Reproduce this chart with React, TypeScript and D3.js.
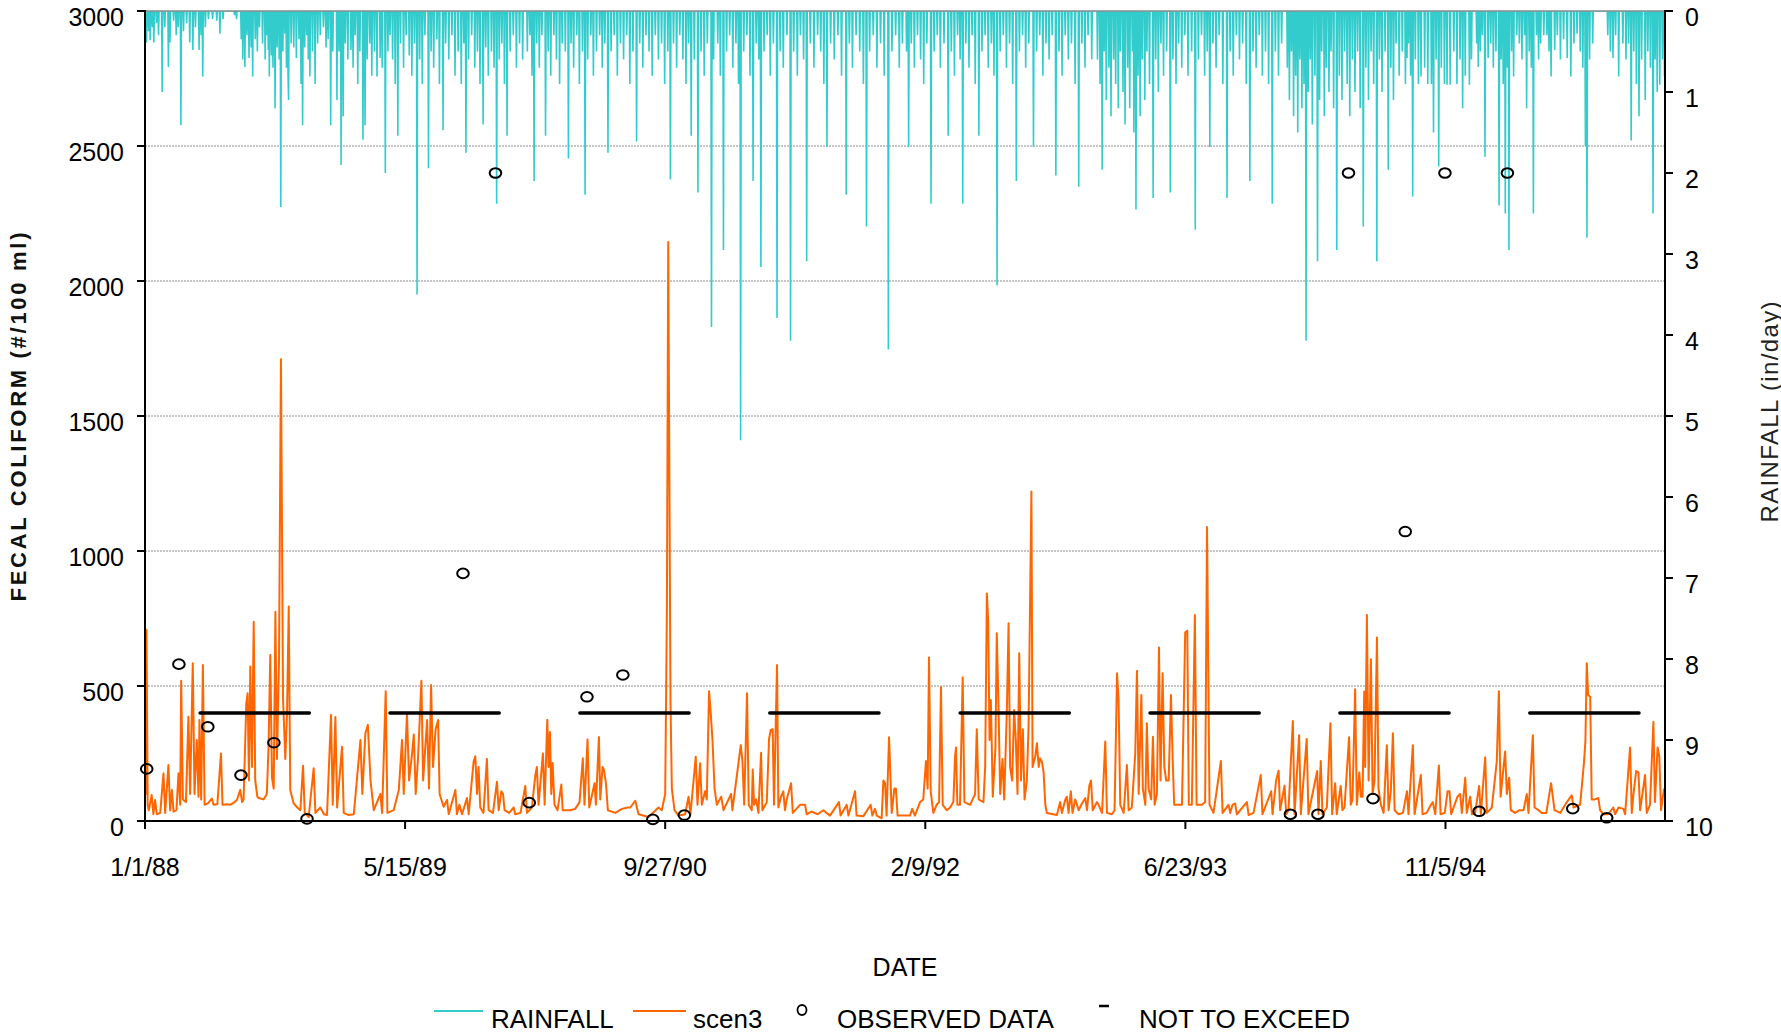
import React from 'react';
import * as d3 from 'd3';

// ---------- DATA ----------
const xTickDays = [0, 500, 1000, 1500, 2000, 2500];
const xTickLabels = ['1/1/88', '5/15/89', '9/27/90', '2/9/92', '6/23/93', '11/5/94'];
const leftTicks = [0, 500, 1000, 1500, 2000, 2500, 3000];
const rightTicks = [0, 1, 2, 3, 4, 5, 6, 7, 8, 9, 10];
const gridValues = [500, 1000, 1500, 2000, 2500];

// rainfall (day of year, inches/day)
const rain1988: [number, number][] = [[3,0.39],[7,0.25],[10,0.36],[14,0.2],[17,0.39],[22,0.15],[26,0.3],[33,1.0],[38,0.2],[45,0.69],[48,0.39],[55,0.12],[60,0.3],[64,0.2],[69,1.41],[74,0.25],[80,0.15],[86,0.39],[92,0.48],[97,0.2],[104,0.48],[108,0.3],[111,0.81],[116,0.2],[122,0.1],[130,0.1],[138,0.12],[144,0.28],[150,0.1],[172,0.05],[176,0.1],[185,0.35],[188,0.6],[192,0.69],[196,0.3],[200,0.58],[204,0.45],[207,0.81],[212,0.35],[216,0.5],[220,0.2],[226,0.4],[231,0.6],[234,0.3],[237,0.48],[239,0.81],[243,0.55],[246,0.7],[250,1.2],[254,0.45],[258,0.6],[261,2.42],[265,0.5],[269,0.28],[272,0.7],[275,0.81],[276,1.1],[281,0.4],[286,0.45],[291,0.58],[296,0.35],[300,0.9],[303,1.41],[307,0.45],[311,0.3],[314,0.6],[317,0.81],[322,0.5],[327,0.9],[332,0.4],[337,0.3],[343,0.2],[348,0.45],[352,0.35],[357,1.41],[361,0.5]];
const rain1989: [number, number][] = [[3,1.1],[7,0.5],[11,1.9],[15,1.3],[19,0.4],[24,0.6],[30,0.48],[34,0.7],[38,0.3],[43,0.9],[47,0.5],[53,1.59],[57,1.41],[61,0.6],[66,0.4],[70,0.8],[75,0.5],[80,0.81],[86,0.58],[90,0.7],[96,2.0],[101,0.5],[105,0.3],[110,0.6],[115,0.9],[120,1.54],[125,0.4],[131,0.7],[136,0.3],[142,0.55],[147,0.8],[152,0.4],[157,3.5],[162,0.6],[167,0.9],[172,0.3],[179,1.94],[184,0.5],[189,0.7],[195,0.35],[200,0.9],[207,1.47],[212,0.4],[218,0.6],[224,0.3],[230,0.8],[236,0.5],[242,0.9],[247,0.4],[251,1.75],[256,0.6],[262,0.3],[268,0.7],[273,0.5],[278,0.9],[284,1.4],[289,0.45],[294,0.8],[300,0.5],[305,0.7],[310,2.38],[315,0.6],[320,0.4],[325,0.9],[330,1.54],[336,0.5],[342,0.3],[348,0.7],[354,0.4],[360,0.6]];
const rain1990: [number, number][] = [[4,0.5],[9,0.3],[13,0.8],[17,2.1],[22,0.4],[27,0.7],[32,0.3],[39,1.54],[44,0.5],[49,0.8],[55,0.3],[60,0.6],[66,0.9],[71,0.4],[77,0.5],[83,1.82],[88,0.4],[93,0.7],[99,0.3],[104,0.9],[110,0.5],[115,2.27],[120,0.6],[126,0.3],[131,0.8],[137,0.5],[143,0.3],[148,0.7],[153,0.4],[159,1.75],[165,0.5],[171,0.3],[177,0.8],[183,0.4],[189,0.6],[195,0.3],[201,0.9],[207,0.5],[214,1.61],[220,0.4],[226,0.7],[232,0.3],[238,0.5],[244,0.8],[250,0.3],[256,0.6],[262,0.4],[268,0.9],[274,0.5],[279,2.08],[285,0.4],[291,0.7],[297,0.3],[303,0.6],[309,0.9],[314,0.4],[319,1.54],[325,0.6],[332,2.24],[338,0.5],[344,0.8],[350,0.4],[358,3.9],[362,0.6]];
const rain1991: [number, number][] = [[5,0.4],[10,0.8],[16,2.95],[22,0.5],[28,0.3],[34,0.7],[40,0.4],[45,0.9],[49,5.3],[55,0.5],[61,0.3],[67,0.8],[73,2.1],[79,0.4],[84,0.6],[88,3.16],[94,0.5],[100,0.3],[106,0.8],[112,0.4],[119,3.79],[125,0.5],[131,0.7],[138,0.3],[145,4.07],[151,0.5],[158,0.8],[164,0.3],[170,0.6],[176,3.09],[183,0.4],[190,0.7],[197,0.3],[203,0.5],[209,0.9],[215,1.68],[222,0.4],[229,0.6],[236,0.3],[243,0.8],[252,2.27],[258,0.4],[264,0.7],[271,0.3],[278,0.5],[285,0.9],[291,2.66],[297,0.5],[304,0.3],[311,0.7],[318,0.4],[325,0.8],[333,4.18],[340,0.5],[347,0.3],[354,0.7],[360,0.4]];
const rain1992: [number, number][] = [[3,0.5],[7,1.68],[12,0.4],[18,0.7],[24,0.3],[30,0.6],[36,0.9],[42,0.4],[50,2.38],[56,0.5],[62,0.3],[68,0.7],[75,0.4],[83,1.54],[89,0.5],[95,0.8],[101,0.3],[106,0.6],[111,2.38],[117,0.4],[123,0.7],[129,0.3],[135,0.9],[142,1.54],[148,0.5],[154,0.3],[160,0.7],[166,0.4],[171,0.8],[177,3.39],[183,0.5],[189,0.3],[195,0.7],[201,0.4],[207,0.9],[214,2.1],[220,0.5],[226,0.3],[232,0.7],[238,0.4],[247,1.68],[253,0.5],[259,0.3],[265,0.8],[271,0.4],[277,0.6],[283,0.3],[290,2.03],[296,0.5],[302,0.8],[308,0.3],[314,0.6],[320,0.4],[327,0.9],[334,2.17],[340,0.4],[346,0.7],[352,0.3],[359,0.6]];
const rain1993: [number, number][] = [[4,0.6],[9,0.9],[13,1.96],[17,0.5],[21,1.1],[26,0.7],[30,1.3],[35,0.6],[39,0.9],[44,1.2],[48,0.5],[53,1.0],[57,1.4],[62,0.7],[66,1.2],[71,0.5],[74,1.5],[78,2.45],[82,0.8],[86,1.3],[90,0.6],[95,1.1],[99,0.5],[104,0.9],[111,2.31],[116,0.6],[121,1.0],[126,0.4],[131,0.8],[137,0.5],[144,2.24],[149,0.6],[155,0.9],[160,0.4],[166,0.7],[172,0.3],[178,0.8],[185,0.5],[192,2.7],[198,0.6],[204,0.3],[210,0.8],[215,0.5],[220,1.68],[226,0.4],[232,0.7],[238,0.3],[245,0.9],[253,2.31],[259,0.5],[265,0.8],[271,0.3],[277,0.6],[283,0.4],[290,0.9],[297,2.1],[303,0.5],[309,0.7],[315,0.3],[321,0.8],[327,0.5],[333,0.9],[340,2.38],[346,0.5],[352,0.8],[358,0.4]];
const rain1994: [number, number][] = [[4,0.7],[8,1.1],[12,0.5],[16,1.3],[20,0.8],[24,1.5],[28,0.6],[32,1.2],[36,0.9],[40,4.07],[44,1.0],[48,0.6],[52,1.4],[57,0.8],[62,3.09],[66,1.1],[70,0.5],[75,1.3],[79,0.7],[84,1.0],[88,0.5],[93,1.2],[99,2.95],[104,0.8],[109,1.1],[114,0.5],[119,0.9],[124,1.3],[129,0.6],[134,1.0],[139,0.5],[144,1.2],[150,2.66],[155,0.7],[160,1.1],[165,0.5],[170,0.9],[176,3.09],[181,0.6],[186,1.0],[192,0.5],[198,1.96],[203,0.7],[208,1.1],[213,0.4],[219,0.8],[225,0.5],[231,0.9],[234,0.58],[237,0.4],[241,0.8],[245,2.29],[250,0.6],[256,0.9],[261,0.81],[268,0.7],[274,0.9],[281,0.9],[285,1.5],[290,0.6],[295,1.92],[300,0.7],[306,0.9],[311,0.91],[317,0.91],[324,0.5],[330,0.9],[336,0.6],[341,1.2],[346,0.8],[354,0.91],[358,0.6]];
const rain1995: [number, number][] = [[3,0.4],[6,0.69],[10,0.5],[14,0.3],[19,1.8],[25,0.58],[30,0.4],[35,0.7],[40,0.5],[46,2.4],[50,0.6],[54,0.9],[58,2.5],[62,0.7],[65,2.95],[70,0.5],[74,0.81],[80,0.3],[85,0.4],[90,0.6],[95,0.3],[99,1.2],[104,0.5],[108,0.7],[112,2.5],[118,0.3],[122,0.6],[126,0.4],[132,0.3],[138,0.3],[142,0.5],[146,0.81],[153,0.48],[158,0.3],[164,0.6],[170,0.35],[177,0.58],[184,0.81],[190,0.4],[196,0.28],[202,0.5],[207,0.7],[212,1.67],[215,2.8],[220,0.6],[226,0.4],[255,0.3],[260,0.5],[265,0.58],[270,0.3],[276,0.81],[284,0.4],[290,0.6],[295,0.4],[300,1.6],[305,0.5],[310,0.9],[315,1.3],[320,0.6],[327,1.1],[332,0.5],[337,0.7],[342,2.5],[346,0.6],[350,1.0],[355,0.91],[360,0.6],[364,0.81]];
const rainYears: [number, [number, number][]][] = [[1988, rain1988],[1989, rain1989],[1990, rain1990],[1991, rain1991],[1992, rain1992],[1993, rain1993],[1994, rain1994],[1995, rain1995]];

// scen3 (decimal year, #/100 ml)
const scen3_1988: [number, number][] = [[1988.000,480],[1988.004,100],[1988.008,707],[1988.014,60],[1988.020,40],[1988.035,96],[1988.044,25],[1988.053,78],[1988.062,25],[1988.080,30],[1988.097,177],[1988.106,30],[1988.123,207],[1988.132,40],[1988.141,115],[1988.150,35],[1988.165,40],[1988.176,177],[1988.185,60],[1988.190,519],[1988.199,80],[1988.215,70],[1988.228,386],[1988.237,100],[1988.251,584],[1988.260,100],[1988.272,300],[1988.281,90],[1988.286,374],[1988.295,80],[1988.304,578],[1988.313,60],[1988.330,65],[1988.351,83],[1988.360,60],[1988.380,62],[1988.399,250],[1988.407,60],[1988.430,62],[1988.448,60],[1988.470,70],[1988.483,78],[1988.500,115],[1988.510,70],[1988.518,80],[1988.532,436],[1988.539,473],[1988.546,150],[1988.553,572],[1988.562,200],[1988.571,738],[1988.579,150],[1988.590,90],[1988.597,85],[1988.623,80],[1988.640,100],[1988.649,275],[1988.658,615],[1988.667,160],[1988.676,120],[1988.685,775],[1988.693,230],[1988.704,600],[1988.714,1710],[1988.725,450],[1988.737,230],[1988.746,400],[1988.755,794],[1988.763,115],[1988.781,65],[1988.800,50],[1988.816,40],[1988.830,205],[1988.839,30],[1988.860,15],[1988.872,100],[1988.886,195],[1988.895,30],[1988.921,50],[1988.940,25],[1988.956,22],[1988.977,393],[1988.986,60],[1989.000,385],[1989.009,50],[1989.035,275],[1989.044,30],[1989.070,22],[1989.097,25],[1989.132,300],[1989.142,100],[1989.158,325],[1989.171,356],[1989.185,150],[1989.202,40],[1989.237,100],[1989.246,30],[1989.265,481],[1989.274,30],[1989.307,40],[1989.334,115],[1989.351,300],[1989.360,100],[1989.377,399],[1989.388,150],[1989.404,250],[1989.413,320],[1989.423,100],[1989.435,230],[1989.453,519],[1989.462,150],[1989.483,374],[1989.493,120],[1989.504,504],[1989.514,200],[1989.528,340],[1989.541,374],[1989.549,100],[1989.570,53]];
const scen3_1990: [number, number][] = [[1989.588,78],[1989.597,25],[1989.632,115],[1989.640,25],[1989.653,60],[1989.667,25],[1989.693,85],[1989.702,25],[1989.728,220],[1989.737,240],[1989.746,100],[1989.754,200],[1989.763,50],[1989.780,30],[1989.798,230],[1989.807,40],[1989.830,30],[1989.851,145],[1989.860,40],[1989.874,110],[1989.883,100],[1989.891,40],[1989.915,30],[1989.939,50],[1989.947,25],[1989.975,30],[1990.000,130],[1990.009,30],[1990.035,50],[1990.053,170],[1990.061,200],[1990.070,60],[1990.093,250],[1990.102,60],[1990.116,375],[1990.123,200],[1990.130,330],[1990.137,100],[1990.144,215],[1990.154,60],[1990.170,40],[1990.190,135],[1990.197,40],[1990.237,40],[1990.263,45],[1990.286,70],[1990.303,232],[1990.312,60],[1990.328,302],[1990.337,50],[1990.365,140],[1990.372,60],[1990.388,311],[1990.395,80],[1990.407,200],[1990.414,190],[1990.425,140],[1990.435,40],[1990.474,30],[1990.509,45],[1990.540,50],[1990.553,50],[1990.579,75],[1990.597,25],[1990.649,15],[1990.702,50],[1990.719,40],[1990.737,100],[1990.746,788],[1990.753,2144],[1990.765,436],[1990.772,120],[1990.786,40],[1990.807,20],[1990.842,25],[1990.860,90],[1990.870,25],[1990.898,238],[1990.907,60],[1990.921,214],[1990.930,60],[1990.947,110],[1990.956,80],[1990.968,481],[1990.977,399],[1990.986,300],[1990.997,120],[1991.009,60],[1991.032,90],[1991.044,40],[1991.084,100],[1991.091,40],[1991.135,281],[1991.144,220],[1991.153,60],[1991.168,473],[1991.177,60]];
const scen3_1991: [number, number][] = [[1991.193,40],[1991.198,191],[1991.205,60],[1991.216,80],[1991.228,30],[1991.242,253],[1991.249,40],[1991.272,70],[1991.284,304],[1991.293,337],[1991.303,340],[1991.310,60],[1991.326,578],[1991.333,50],[1991.347,90],[1991.359,110],[1991.368,40],[1991.377,80],[1991.400,140],[1991.409,30],[1991.447,60],[1991.474,60],[1991.482,25],[1991.508,35],[1991.540,25],[1991.570,40],[1991.605,20],[1991.652,70],[1991.661,20],[1991.693,60],[1991.702,20],[1991.737,110],[1991.745,20],[1991.781,18],[1991.819,60],[1991.828,20],[1991.842,45],[1991.851,20],[1991.877,10],[1991.886,150],[1991.895,140],[1991.903,20],[1991.916,310],[1991.930,30],[1991.944,120],[1991.952,120],[1991.961,20],[1991.991,20],[1992.026,20],[1992.038,45],[1992.052,20],[1992.079,70],[1992.096,80],[1992.110,222],[1992.119,120],[1992.126,606],[1992.135,110],[1992.149,30],[1992.166,60],[1992.179,70],[1992.189,495],[1992.198,60],[1992.219,40],[1992.237,50],[1992.254,70],[1992.263,240],[1992.268,272],[1992.275,60],[1992.289,60],[1992.303,532],[1992.312,70],[1992.342,60],[1992.368,100],[1992.377,340],[1992.387,80],[1992.412,70],[1992.421,200],[1992.430,843],[1992.437,738],[1992.444,300],[1992.451,448],[1992.461,90],[1992.475,270],[1992.482,695],[1992.491,430],[1992.500,100],[1992.512,230],[1992.521,80],[1992.535,410],[1992.544,732],[1992.552,200],[1992.563,150],[1992.573,411],[1992.582,300],[1992.591,100],[1992.600,621],[1992.609,150],[1992.619,340],[1992.628,80],[1992.640,150],[1992.649,350],[1992.664,1220],[1992.670,200],[1992.684,238],[1992.693,288],[1992.702,200],[1992.710,232],[1992.719,220],[1992.728,180],[1992.737,60],[1992.745,30],[1992.798,22]];
const scen3_1993: [number, number][] = [[1992.815,70],[1992.824,30],[1992.842,80],[1992.850,90],[1992.859,30],[1992.871,110],[1992.880,30],[1992.894,80],[1992.912,40],[1992.926,60],[1992.947,85],[1992.956,40],[1992.968,130],[1992.977,150],[1992.986,40],[1993.008,70],[1993.017,60],[1993.035,30],[1993.052,294],[1993.061,30],[1993.087,25],[1993.101,40],[1993.114,547],[1993.122,451],[1993.131,60],[1993.149,30],[1993.166,207],[1993.175,40],[1993.192,50],[1993.210,251],[1993.219,556],[1993.228,100],[1993.242,467],[1993.250,120],[1993.263,60],[1993.271,362],[1993.280,120],[1993.294,80],[1993.303,312],[1993.312,60],[1993.324,100],[1993.335,643],[1993.343,150],[1993.354,547],[1993.363,200],[1993.373,150],[1993.386,150],[1993.398,467],[1993.407,230],[1993.415,60],[1993.438,60],[1993.456,60],[1993.473,698],[1993.484,705],[1993.492,60],[1993.508,60],[1993.524,763],[1993.533,60],[1993.561,60],[1993.578,70],[1993.588,1089],[1993.601,60],[1993.622,30],[1993.661,222],[1993.670,30],[1993.701,60],[1993.710,30],[1993.722,60],[1993.736,65],[1993.745,25],[1993.798,70],[1993.807,22],[1993.833,30],[1993.871,170],[1993.880,25],[1993.926,110],[1993.933,25],[1993.952,150],[1993.965,186],[1993.973,40],[1993.996,131],[1994.005,25],[1994.017,40],[1994.040,370],[1994.049,25],[1994.073,318],[1994.082,25],[1994.113,304],[1994.122,25],[1994.168,185],[1994.175,25],[1994.187,222],[1994.196,25],[1994.219,50],[1994.238,362],[1994.247,25],[1994.263,140],[1994.271,25],[1994.292,130],[1994.301,40],[1994.312,50],[1994.336,310],[1994.345,60],[1994.354,80],[1994.368,488],[1994.377,60],[1994.390,180],[1994.398,90]];
const scen3_1995: [number, number][] = [[1994.407,90],[1994.416,480],[1994.421,200],[1994.430,763],[1994.439,150],[1994.451,599],[1994.460,100],[1994.470,150],[1994.483,680],[1994.491,120],[1994.504,60],[1994.518,30],[1994.535,281],[1994.544,40],[1994.556,110],[1994.567,325],[1994.576,40],[1994.597,25],[1994.620,30],[1994.641,110],[1994.649,25],[1994.672,281],[1994.681,25],[1994.714,170],[1994.723,25],[1994.745,30],[1994.767,60],[1994.777,70],[1994.790,25],[1994.809,206],[1994.818,25],[1994.840,30],[1994.855,110],[1994.865,110],[1994.874,25],[1994.907,90],[1994.921,100],[1994.930,30],[1994.948,160],[1994.956,30],[1994.974,90],[1994.983,25],[1995.000,30],[1995.021,130],[1995.030,25],[1995.053,236],[1995.062,30],[1995.088,50],[1995.114,220],[1995.125,481],[1995.134,90],[1995.158,257],[1995.167,100],[1995.179,160],[1995.188,40],[1995.210,30],[1995.234,40],[1995.255,40],[1995.272,100],[1995.281,30],[1995.304,318],[1995.313,50],[1995.334,40],[1995.351,30],[1995.375,30],[1995.400,140],[1995.409,90],[1995.418,40],[1995.448,30],[1995.483,70],[1995.509,95],[1995.518,50],[1995.553,60],[1995.574,222],[1995.581,300],[1995.588,584],[1995.595,467],[1995.606,460],[1995.614,80],[1995.630,80],[1995.649,85],[1995.658,40],[1995.676,25],[1995.700,25],[1995.728,50],[1995.737,25],[1995.755,50],[1995.781,45],[1995.790,25],[1995.816,272],[1995.825,30],[1995.834,100],[1995.848,185],[1995.860,180],[1995.869,40],[1995.895,170],[1995.904,30],[1995.921,60],[1995.939,368],[1995.947,70],[1995.961,272],[1995.970,240],[1995.979,40],[1995.995,120]];

// observed data (decimal year, #/100 ml)
const observed: [number, number][] = [[1988.009,193],[1988.178,581],[1988.330,349],[1988.504,170],[1988.677,290],[1988.851,8],[1989.672,917],[1989.843,2400],[1990.021,68],[1990.325,460],[1990.514,541],[1990.672,6],[1990.838,22],[1994.027,25],[1994.172,25],[1994.333,2400],[1994.462,83],[1994.632,1072],[1994.841,2400],[1995.021,36],[1995.170,2400],[1995.514,46],[1995.693,12]];

// not-to-exceed standard (start, end, value)
const nteYears = [1988, 1989, 1990, 1991, 1992, 1993, 1994, 1995];
const nteStart = [3, 16]; // month (0-based), day
const nteEnd = [10, 12];
const nteValue = 400;

// ---------- LAYOUT ----------
const W = 1781, H = 1034;
const L = 145, R = 1665, T = 11, B = 821;
const FONT = '"Liberation Sans", Arial, Helvetica, sans-serif';
const RAIN_C = '#33CCCC';
const SCEN_C = '#FF6600';

const start = Date.UTC(1988, 0, 1);
const DAY = 86400000;
const yearToDate = (y: number) => {
  const yr = Math.floor(y);
  const s = Date.UTC(yr, 0, 1), e = Date.UTC(yr + 1, 0, 1);
  return new Date(s + (y - yr) * (e - s));
};

const x = d3.scaleUtc().domain([new Date(start), new Date(Date.UTC(1996, 0, 1))]).range([L, R]);
const y = d3.scaleLinear().domain([0, 3000]).range([B, T]);
const yr = d3.scaleLinear().domain([0, 10]).range([T, B]);

export default function App() {
  // daily rainfall series
  const rainMap = new Map<number, number>();
  rainYears.forEach(([year, arr]) => {
    arr.forEach(([doy, v]) => {
      const t = Date.UTC(year, 0, 1 + doy);
      rainMap.set(Math.round((t - start) / DAY), v);
    });
  });
  const nDays = Math.round((Date.UTC(1996, 0, 1) - start) / DAY);
  const rainDaily: [Date, number][] = [];
  for (let d = 0; d < nDays; d++) rainDaily.push([new Date(start + d * DAY), rainMap.get(d) ?? 0]);
  const rainPath = d3.line<[Date, number]>().x(d => x(d[0])).y(d => yr(d[1]))(rainDaily) || '';

  const scen = [...scen3_1988, ...scen3_1990, ...scen3_1991, ...scen3_1993, ...scen3_1995];
  const scenPath = d3.line<[number, number]>().x(d => x(yearToDate(d[0]))).y(d => y(d[1]))(scen) || '';

  const legY = 1011;
  const legText = 1028;

  return (
    <svg width={W} height={H} style={{ position: 'absolute', left: 0, top: 0, background: '#fff' }} fontFamily={FONT}>
      <defs>
        <clipPath id="plot"><rect x={L} y={T} width={R - L} height={B - T} /></clipPath>
      </defs>
      {gridValues.map(v => (
        <line key={v} x1={L} x2={R} y1={y(v)} y2={y(v)} stroke="#8c8c8c" strokeWidth={1} strokeDasharray="2,1" />
      ))}
      <g clipPath="url(#plot)">
        <path d={rainPath} fill="none" stroke={RAIN_C} strokeWidth={1.6} strokeLinejoin="miter" />
        <path d={scenPath} fill="none" stroke={SCEN_C} strokeWidth={2} strokeLinejoin="round" />
      </g>
      {nteYears.map(yy => (
        <line key={yy} x1={x(new Date(Date.UTC(yy, nteStart[0], nteStart[1])))} x2={x(new Date(Date.UTC(yy, nteEnd[0], nteEnd[1])))}
          y1={y(nteValue)} y2={y(nteValue)} stroke="#000" strokeWidth={3.5} strokeLinecap="round" />
      ))}
      {observed.map(([t, v], i) => (
        <ellipse key={i} cx={x(yearToDate(t))} cy={y(v)} rx={5.8} ry={4.8} fill="none" stroke="#000" strokeWidth={2} />
      ))}
      {/* top border */}
      <line x1={L} x2={R} y1={T} y2={T} stroke="#8c8c8c" strokeWidth={1.5} />
      {/* left axis */}
      <line x1={L} x2={L} y1={T - 1} y2={B + 1} stroke="#000" strokeWidth={2} />
      {leftTicks.map(v => (
        <g key={v}>
          <line x1={L - 8} x2={L} y1={y(v)} y2={y(v)} stroke="#000" strokeWidth={2} />
          <text x={124} y={y(v) + 15} textAnchor="end" fontSize={25} fill="#000">{v}</text>
        </g>
      ))}
      {/* right axis */}
      <line x1={R} x2={R} y1={T - 1} y2={B + 1} stroke="#000" strokeWidth={2} />
      {rightTicks.map(v => (
        <g key={v}>
          <line x1={R} x2={R + 8} y1={yr(v)} y2={yr(v)} stroke="#000" strokeWidth={2} />
          <text x={1685} y={yr(v) + 15} textAnchor="start" fontSize={25} fill="#000">{v}</text>
        </g>
      ))}
      {/* bottom axis */}
      <line x1={L - 1} x2={R + 1} y1={B} y2={B} stroke="#000" strokeWidth={2} />
      {xTickDays.map((d, i) => {
        const xx = x(new Date(start + d * DAY));
        return (
          <g key={d}>
            <line x1={xx} x2={xx} y1={B} y2={B + 8} stroke="#000" strokeWidth={2} />
            <text x={xx} y={876} textAnchor="middle" fontSize={25} fill="#000">{xTickLabels[i]}</text>
          </g>
        );
      })}
      <text x={905} y={976} textAnchor="middle" fontSize={25} fill="#000">DATE</text>
      <text transform="translate(18,417) rotate(-90)" textAnchor="middle" dominantBaseline="central" fontSize={22} fontWeight="bold" fill="#111" textLength={369} lengthAdjust="spacing">FECAL COLIFORM (#/100 ml)</text>
      <text transform="translate(1769,412) rotate(-90)" textAnchor="middle" dominantBaseline="central" fontSize={24} fill="#222" textLength={221} lengthAdjust="spacing">RAINFALL (in/day)</text>
      {/* legend */}
      <line x1={434} x2={483} y1={legY} y2={legY} stroke={RAIN_C} strokeWidth={2} />
      <text x={491} y={legText} fontSize={26} fill="#000">RAINFALL</text>
      <line x1={633} x2={686} y1={legY} y2={legY} stroke={SCEN_C} strokeWidth={2} />
      <text x={693} y={legText} fontSize={26} fill="#000">scen3</text>
      <ellipse cx={802} cy={1010} rx={4.5} ry={5} fill="none" stroke="#000" strokeWidth={1.8} />
      <text x={837} y={legText} fontSize={26} fill="#000">OBSERVED DATA</text>
      <line x1={1099} x2={1109} y1={1006} y2={1006} stroke="#000" strokeWidth={2.5} />
      <text x={1139} y={legText} fontSize={26} fill="#000">NOT TO EXCEED</text>
    </svg>
  );
}
